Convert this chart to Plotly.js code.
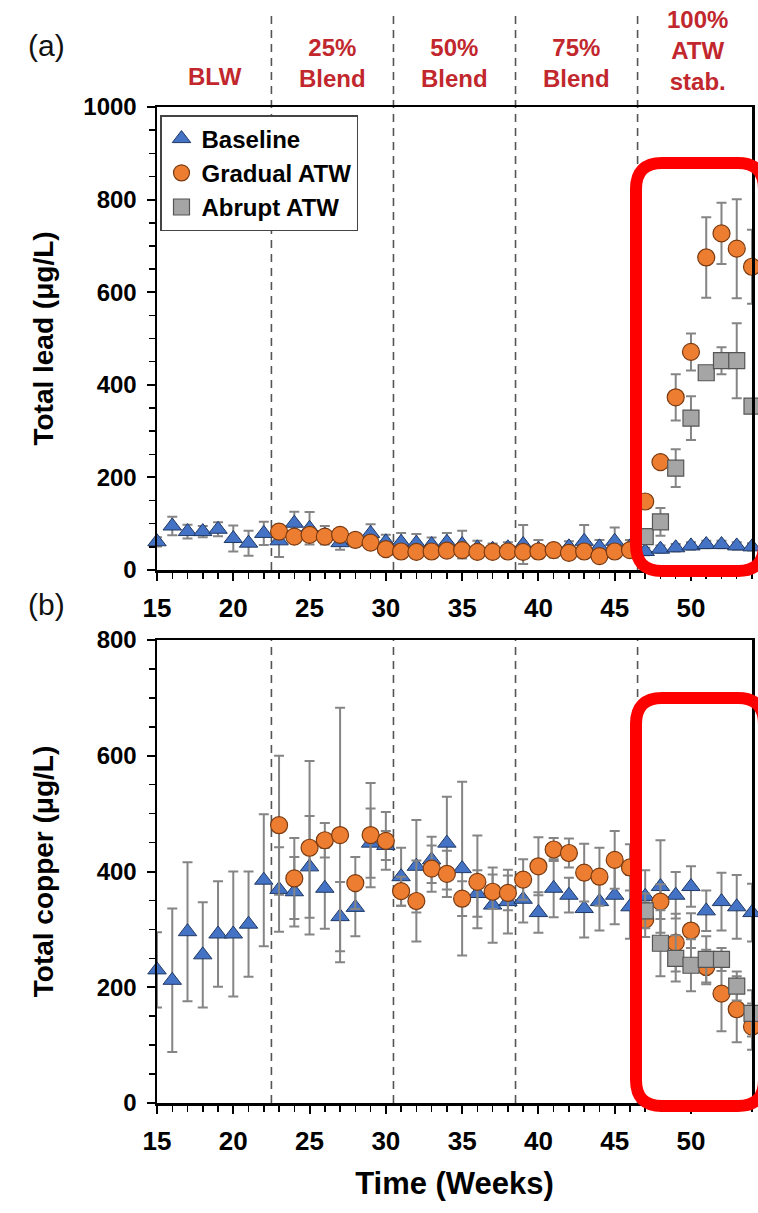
<!DOCTYPE html>
<html>
<head>
<meta charset="utf-8">
<script src="https://cdn.plot.ly/plotly-3.0.1.min.js"></script>
<style>html,body{margin:0;padding:0;background:#fff;}#chart{width:758px;height:1213px;}</style>
</head>
<body>
<div id="chart"></div>
<script>
// ---------- DATA ----------
const weeksBaseline = [15,16,17,18,19,20,21,22,23,24,25,26,27,28,29,30,31,32,33,34,35,36,37,38,39,40,41,42,43,44,45,46,47,48,49,50,51,52,53,54];
const weeksGradual = [23,24,25,26,27,28,29,30,31,32,33,34,35,36,37,38,39,40,41,42,43,44,45,46,47,48,49,50,51,52,53,54];
const weeksAbrupt = [47,48,49,50,51,52,53,54];

const leadBaseline = [61,95,83,83,88,68,58,79,63,101,90,75,59,65,79,61,60,58,55,60,55,48,45,48,55,45,42,50,62,50,62,50,40,45,48,52,55,55,52,50];
const leadBaselineErr = [10,20,15,12,15,28,27,25,35,25,35,20,15,15,20,15,20,20,15,20,30,15,12,12,42,20,15,12,35,15,30,15,8,8,8,8,8,8,8,8];
const leadGradual = [83,72,76,72,76,65,59,45,40,39,40,42,43,39,39,40,39,40,43,37,40,30,40,43,148,233,373,471,675,727,694,655];
const leadGradualErr = [12,10,10,8,8,8,8,8,8,8,8,8,8,8,8,8,8,8,8,8,8,8,8,8,10,10,50,40,87,66,107,80];
const leadAbrupt = [72,104,220,328,426,452,452,354];
const leadAbruptErr = [10,30,41,47,10,29,81,10];

const copperBaseline = [230,212,296,256,292,292,309,385,369,365,408,371,322,338,449,445,391,409,420,449,405,362,342,348,352,329,371,359,336,348,359,339,357,374,359,374,332,348,339,329];
const copperBaselineErr = [65,124,120,91,91,108,91,114,73,60,88,70,60,50,60,25,50,80,40,80,150,40,65,55,40,35,50,30,50,50,50,55,45,80,40,35,35,50,55,50];
const copperGradual = [480,388,441,454,463,380,463,453,366,349,405,396,353,382,365,363,386,409,438,432,398,391,420,407,317,348,277,298,235,189,162,132];
const copperGradualErr = [120,70,150,30,220,45,90,50,25,70,40,40,30,80,30,30,35,50,20,25,50,50,50,40,30,30,50,30,30,65,57,40];
const copperAbrupt = [332,276,250,238,248,248,202,155];
const copperAbruptErr = [30,57,40,45,40,20,25,40];

const seriesNames = ["Baseline", "Gradual ATW", "Abrupt ATW"];
const phaseBoundaries = [22.5, 30.5, 38.5, 46.5];
const phaseLabels = ["BLW", "25%<br>Blend", "50%<br>Blend", "75%<br>Blend", "100%<br>ATW<br>stab."];
const phaseCenters = [18.8, 26.5, 34.5, 42.5, 50.4];

// ---------- STYLE ----------
const FONT = "Liberation Sans, Arial, Helvetica, sans-serif";
const W = 758, H = 1213, ML = 157, MR = 6;
const PW = W - ML - MR;
const px2x = p => (p - ML) / PW;
const px2y = p => (H - p) / H;

const styles = [
  {symbol: "triangle-up", size: 16, color: "#4472c4", line: {color: "#1f3864", width: 1}},
  {symbol: "circle", size: 17, color: "#ed7d31", line: {color: "#7a3a10", width: 1.2}},
  {symbol: "square", size: 16, color: "#a5a5a5", line: {color: "#555555", width: 1.2}}
];
const errStyle = arr => ({type: "data", array: arr, visible: true, color: "#858585", thickness: 2, width: 5});

function mk(x, y, err, i, xa, ya, showleg) {
  return {
    type: "scatter", mode: "markers", x: x, y: y, name: seriesNames[i],
    legendgroup: seriesNames[i], showlegend: showleg,
    xaxis: xa, yaxis: ya, cliponaxis: false,
    marker: styles[i], error_y: errStyle(err),
    hovertemplate: "Week %{x}: %{y} µg/L<extra>" + seriesNames[i] + "</extra>"
  };
}

const traces = [
  mk(weeksBaseline, leadBaseline, leadBaselineErr, 0, "x", "y", true),
  mk(weeksGradual, leadGradual, leadGradualErr, 1, "x", "y", true),
  mk(weeksAbrupt, leadAbrupt, leadAbruptErr, 2, "x", "y", true),
  mk(weeksBaseline, copperBaseline, copperBaselineErr, 0, "x2", "y2", false),
  mk(weeksGradual, copperGradual, copperGradualErr, 1, "x2", "y2", false),
  mk(weeksAbrupt, copperAbrupt, copperAbruptErr, 2, "x2", "y2", false)
];

const xTickFont = {family: FONT, size: 26, color: "#000", weight: "bold"};
const yTickFont = {family: FONT, size: 24, color: "#000", weight: "bold"};
function xAxis(anchor, title) {
  const a = {
    anchor: anchor, domain: [0, 1], range: [15, 54], tick0: 15, dtick: 5,
    ticks: "outside", ticklen: 8, tickwidth: 2, tickcolor: "#000",
    ticklabelstandoff: 5,
    minor: {dtick: 1, ticks: "outside", ticklen: 6, tickwidth: 1.5, tickcolor: "#000"},
    showline: true, linecolor: "#000", linewidth: 2.5, mirror: true,
    showgrid: false, zeroline: false, tickfont: xTickFont
  };
  if (title) a.title = {text: title, font: {family: FONT, size: 31, color: "#000", weight: "bold"}, standoff: 18};
  return a;
}
function yAxis(anchor, domain, range, title, standoff) {
  return {
    anchor: anchor, domain: domain, range: range, dtick: 200, tick0: 0,
    ticks: "outside", ticklen: 8, tickwidth: 2, tickcolor: "#000",
    ticklabelstandoff: 5,
    minor: {dtick: 50, ticks: "outside", ticklen: 6, tickwidth: 1.5, tickcolor: "#000"},
    showline: true, linecolor: "#000", linewidth: 2.5, mirror: true,
    showgrid: false, zeroline: false, tickfont: yTickFont,
    title: {text: title, font: {family: FONT, size: 28, color: "#000", weight: "bold"}, standoff: standoff}
  };
}

const shapes = [];
phaseBoundaries.forEach(v => {
  shapes.push({type: "line", xref: "x", yref: "paper", x0: v, x1: v, y0: px2y(570), y1: px2y(16),
    line: {color: "#555", width: 1.6, dash: "8px,6px"}, layer: "below"});
  shapes.push({type: "line", xref: "x2", yref: "y2 domain", x0: v, x1: v, y0: 0, y1: 1,
    line: {color: "#555", width: 1.6, dash: "8px,6px"}, layer: "below"});
});
function roundRect(l, t, r, b, rad) {
  const X = px2x, Y = px2y;
  return "M" + X(l + rad) + "," + Y(t) +
    " L" + X(r - rad) + "," + Y(t) +
    " Q" + X(r) + "," + Y(t) + " " + X(r) + "," + Y(t + rad) +
    " L" + X(r) + "," + Y(b - rad) +
    " Q" + X(r) + "," + Y(b) + " " + X(r - rad) + "," + Y(b) +
    " L" + X(l + rad) + "," + Y(b) +
    " Q" + X(l) + "," + Y(b) + " " + X(l) + "," + Y(b - rad) +
    " L" + X(l) + "," + Y(t + rad) +
    " Q" + X(l) + "," + Y(t) + " " + X(l + rad) + "," + Y(t) + " Z";
}
shapes.push({type: "path", xref: "paper", yref: "paper", path: roundRect(636, 163, 764, 571, 26),
  line: {color: "#ff0000", width: 12}, layer: "above"});
shapes.push({type: "path", xref: "paper", yref: "paper", path: roundRect(636, 698, 764, 1106, 26),
  line: {color: "#ff0000", width: 12}, layer: "above"});

const annotations = [
  {text: "(a)", xref: "paper", yref: "paper", x: px2x(46), y: px2y(46), showarrow: false,
   xanchor: "center", yanchor: "middle", font: {family: FONT, size: 30, color: "#111"}},
  {text: "(b)", xref: "paper", yref: "paper", x: px2x(46), y: px2y(604), showarrow: false,
   xanchor: "center", yanchor: "middle", font: {family: FONT, size: 30, color: "#111"}}
];
const headerY = [px2y(77), px2y(63), px2y(63), px2y(63), px2y(50)];
phaseLabels.forEach((t, i) => {
  annotations.push({text: t, xref: "x", yref: "paper", x: phaseCenters[i], y: headerY[i],
    showarrow: false, xanchor: "center", yanchor: "middle", align: "center",
    font: {family: FONT, size: 24, color: "#c1272d", weight: "bold"}});
});

const layout = {
  width: W, height: H,
  margin: {l: ML, r: MR, t: 0, b: 0, pad: 0},
  paper_bgcolor: "#fff", plot_bgcolor: "#fff",
  font: {family: FONT, color: "#000"},
  xaxis: xAxis("y"),
  yaxis: yAxis("x", [px2y(570), px2y(107)], [0, 1000], "Total lead (μg/L)", 22),
  xaxis2: xAxis("y2", "Time (Weeks)"),
  yaxis2: yAxis("x2", [px2y(1103), px2y(640)], [0, 800], "Total copper (μg/L)", 35),
  showlegend: true,
  legend: {x: px2x(160), y: px2y(115), xanchor: "left", yanchor: "top",
    bgcolor: "#fff", bordercolor: "#444", borderwidth: 1.5,
    font: {family: FONT, size: 24, color: "#000", weight: "bold"},
    itemwidth: 30, tracegroupgap: 5, traceorder: "normal"},
  shapes: shapes,
  annotations: annotations
};

Plotly.newPlot("chart", traces, layout, {displayModeBar: false, staticPlot: true});
</script>
</body>
</html>
